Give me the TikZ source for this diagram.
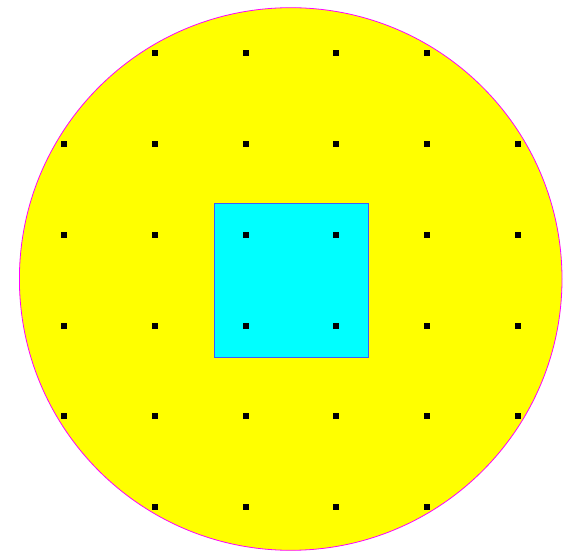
\documentclass[tikz,border=0pt]{standalone}
\begin{document}
\begin{tikzpicture}[x=1pt,y=-1pt,
  dot/.style={fill=black,minimum size=6pt,inner sep=0pt,draw=none,rectangle}]
\useasboundingbox (0,0) rectangle (568,553);
\definecolor{edgemag}{RGB}{255,0,255}
\definecolor{sqborder}{RGB}{60,90,255}
\definecolor{pureyellow}{RGB}{255,255,0}
\definecolor{purecyan}{RGB}{0,255,255}
\coordinate (c) at (290.7,279);
\fill[pureyellow] (c) circle (271.3);
\draw[edgemag,line width=0.8pt] (c) circle (271.3);
\node[draw=sqborder,fill=purecyan,line width=1pt,minimum size=154pt,inner sep=0pt] (sq) at (291,280.2) {};
\foreach \px/\py in {155/53.5,245.5/53.5,336/53.5,427/53.5,
  64/144.5,155/144.5,245.5/144.5,336/144.5,427/144.5,518/144.5,
  64/235,155/235,245.5/235,336/235,427/235,518/235,
  64/326,155/326,245.5/326,336/326,427/326,518/326,
  64/416.5,155/416.5,245.5/416.5,336/416.5,427/416.5,518/416.5,
  155/507,245.5/507,336/507,427/507}
  \node[dot] at (\px,\py) {};
\end{tikzpicture}
\end{document}
